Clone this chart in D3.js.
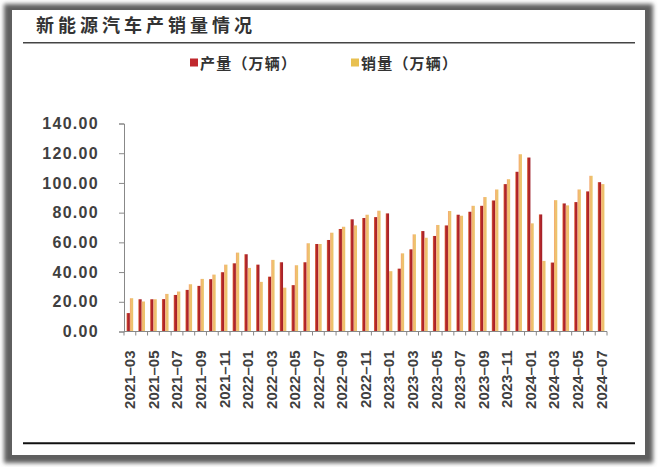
<!DOCTYPE html>
<html><head><meta charset="utf-8">
<script src="https://cdn.jsdelivr.net/npm/d3@7/dist/d3.min.js"></script>
<style>html,body{margin:0;padding:0;background:#fff;}svg{display:block;}</style>
</head><body>
<svg id="c" width="660" height="467"></svg>
<script>
const months = ["2021-03","2021-04","2021-05","2021-06","2021-07","2021-08","2021-09","2021-10","2021-11","2021-12",
"2022-01","2022-02","2022-03","2022-04","2022-05","2022-06","2022-07","2022-08","2022-09","2022-10","2022-11","2022-12",
"2023-01","2023-02","2023-03","2023-04","2023-05","2023-06","2023-07","2023-08","2023-09","2023-10","2023-11","2023-12",
"2024-01","2024-02","2024-03","2024-04","2024-05","2024-06","2024-07"];
const production = [12.4,21.7,21.7,21.8,24.6,28.0,30.7,35.2,39.9,45.9,52.0,45.0,36.9,46.6,31.2,46.6,58.9,61.6,69.0,75.5,76.4,77.0,79.5,42.3,55.3,67.6,64.3,71.4,78.6,80.6,84.6,88.2,99.2,107.5,117.1,78.8,46.4,86.2,87.1,94.3,100.5];
const sales = [22.4,20.2,21.7,25.3,26.9,31.8,35.4,38.3,45.0,53.1,42.8,33.4,48.2,29.5,44.6,59.4,58.9,66.5,70.5,71.4,78.6,81.3,40.6,52.6,65.4,63.1,71.7,81.1,77.9,84.6,90.5,95.6,102.5,119.3,72.8,47.5,88.4,84.9,95.6,104.8,99.2];
const yTicks = [0,20,40,60,80,100,120,140];
const seriesNames = ["产量（万辆）","销量（万辆）"];
const title = "新能源汽车产销量情况";

const svg = d3.select("#c");
const defs = svg.append("defs");
const f = defs.append("filter").attr("id","blur").attr("x","-5%").attr("y","-5%").attr("width","110%").attr("height","110%");
f.append("feGaussianBlur").attr("stdDeviation",2);
function grad(id, stops){
  const g = defs.append("linearGradient").attr("id",id).attr("x1","0").attr("x2","1").attr("y1","0").attr("y2","0");
  stops.forEach(s=>g.append("stop").attr("offset",s[0]).attr("stop-color",s[1]));
}
grad("gRed", [[0,"#E0703E"],[0.35,"#B8282C"],[1,"#9E1F28"]]);
grad("gGold",[[0,"#F4A870"],[0.45,"#F0C070"],[1,"#E9C468"]]);

// frame
svg.append("rect").attr("x",4).attr("y",4).attr("width",649).attr("height",459).attr("fill","#5e5e5e").attr("filter","url(#blur)");
svg.append("rect").attr("x",12).attr("y",10).attr("width",633).attr("height",445).attr("fill","#fff");

svg.append("text").attr("x",36).attr("y",32).text(title)
  .attr("font-family","'Noto Sans CJK SC'").attr("font-weight","bold").attr("font-size",18)
  .attr("letter-spacing",4).attr("fill","#333");
svg.append("line").attr("x1",23).attr("x2",635).attr("y1",42.7).attr("y2",42.7).attr("stroke","#444").attr("stroke-width",1.5);
svg.append("line").attr("x1",23).attr("x2",635).attr("y1",443.3).attr("y2",443.3).attr("stroke","#111").attr("stroke-width",2);

// legend
const legCols = ["#C0282D","#E8C050"];
const legX = [190, 351];
seriesNames.forEach((n,i)=>{
  svg.append("rect").attr("x",legX[i]).attr("y",58.5).attr("width",8).attr("height",8).attr("fill",legCols[i]);
  svg.append("text").attr("x",legX[i]+10).attr("y",68.5).text(n)
    .attr("font-family","'Noto Sans CJK SC'").attr("font-weight","bold").attr("font-size",15)
    .attr("letter-spacing",1.2).attr("fill","#333");
});

const x = d3.scaleBand().domain(months).range([124,607]).paddingInner(0.44).paddingOuter(0.22);
const xs = d3.scaleBand().domain([0,1]).range([0,x.bandwidth()]);
const y = d3.scaleLinear().domain([0,140]).range([331.5,123.5]);

const bars = svg.append("g");
const fills = ["url(#gRed)","url(#gGold)"];
[production, sales].forEach((arr,si)=>{
  bars.selectAll(null).data(arr).enter().append("rect")
    .attr("x",(d,i)=>x(months[i])+xs(si))
    .attr("y",d=>y(d))
    .attr("width",xs.bandwidth())
    .attr("height",d=>y(0)-y(d))
    .attr("fill",fills[si]);
});

// y axis
const yAxis = svg.append("g").attr("transform","translate(124,0)")
  .call(d3.axisLeft(y).tickValues(yTicks).tickSize(5).tickFormat(d3.format(".2f")));
yAxis.select(".domain").attr("stroke","#888");
yAxis.selectAll(".tick line").attr("stroke","#888");
yAxis.selectAll(".tick text").attr("x",-25).attr("font-family","Liberation Sans, Arial").attr("font-weight","bold")
  .attr("font-size",16).attr("letter-spacing",1.3).attr("fill","#404040");

// x axis
const xg = svg.append("g").attr("transform","translate(0,331.5)");
xg.append("line").attr("x1",124).attr("x2",607).attr("stroke","#888");
const step = x.step();
xg.selectAll("line.t").data(d3.range(months.length+1)).enter().append("line").attr("class","t")
  .attr("x1",i=>124+i*step).attr("x2",i=>124+i*step).attr("y1",0).attr("y2",4).attr("stroke","#888");
xg.selectAll("text").data(months.filter((m,i)=>i%2===0)).enter().append("text")
  .attr("transform",d=>`translate(${x(d)+x.bandwidth()/2},19) rotate(-90)`)
  .attr("text-anchor","end").attr("dy","0.36em")
  .attr("font-family","Liberation Sans, Arial").attr("font-weight","bold").attr("font-size",15)
  .attr("fill","#404040").text(d=>d.replace("-","–"));
</script>
</body></html>
